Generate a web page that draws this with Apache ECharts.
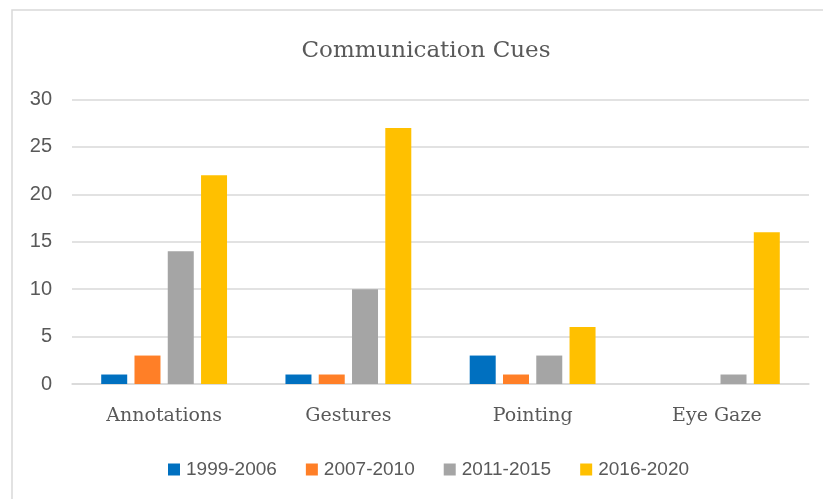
<!DOCTYPE html>
<html><head><meta charset="utf-8">
<script src="https://cdn.jsdelivr.net/npm/echarts@6/dist/echarts.min.js"></script>
<style>html,body{margin:0;padding:0;background:#fff}#c{width:823px;height:499px}</style>
</head><body><div id="c"></div>
<script>
const categories = ['Annotations', 'Gestures', 'Pointing', 'Eye Gaze'];
const seriesNames = ['1999-2006', '2007-2010', '2011-2015', '2016-2020'];
const s1999 = [1, 1, 3, 0];
const s2007 = [3, 1, 1, 0];
const s2011 = [14, 10, 3, 1];
const s2016 = [22, 27, 6, 16];
const colors = ['#0070C0', '#FF7F27', '#A5A5A5', '#FFC000'];
const values = [s1999, s2007, s2011, s2016];

const chart = echarts.init(document.getElementById('c'));
chart.setOption({
  animation: false,
  title: {
    text: 'Communication Cues', left: 421, top: 35, textAlign: 'center',
    textStyle: { fontFamily: 'DejaVu Serif', fontSize: 23, fontWeight: 'normal', color: '#595959' }
  },
  graphic: [{ type: 'rect', shape: { x: 12, y: 10, width: 900, height: 600 }, style: { fill: 'none', stroke: '#d9d9d9', lineWidth: 1.5 }, silent: true, z: -1 }],
  legend: {
    data: seriesNames, left: 163, top: 455, itemWidth: 12, itemHeight: 12, itemGap: 29,
    icon: 'rect',
    textStyle: { fontFamily: 'Liberation Sans', fontSize: 19, color: '#595959', padding: [0, 0, 0, 1] }
  },
  grid: { left: 72, right: 14, top: 99.5, bottom: 115 },
  xAxis: {
    type: 'category', data: categories,
    axisLine: { lineStyle: { color: '#d9d9d9', width: 1.5 } },
    axisTick: { show: false },
    axisLabel: { fontFamily: 'DejaVu Serif', fontSize: 19, color: '#595959', margin: 23 }
  },
  yAxis: {
    type: 'value', min: 0, max: 30, interval: 5,
    axisLine: { show: false }, axisTick: { show: false },
    splitLine: { lineStyle: { color: '#d9d9d9', width: 1.5 } },
    axisLabel: { fontFamily: 'Liberation Sans', fontSize: 20, color: '#595959', margin: 20 }
  },
  series: seriesNames.map((n, i) => ({
    name: n, type: 'bar', data: values[i], barWidth: 26, barGap: '28%',
    itemStyle: { color: colors[i] }
  }))
});
</script></body></html>
